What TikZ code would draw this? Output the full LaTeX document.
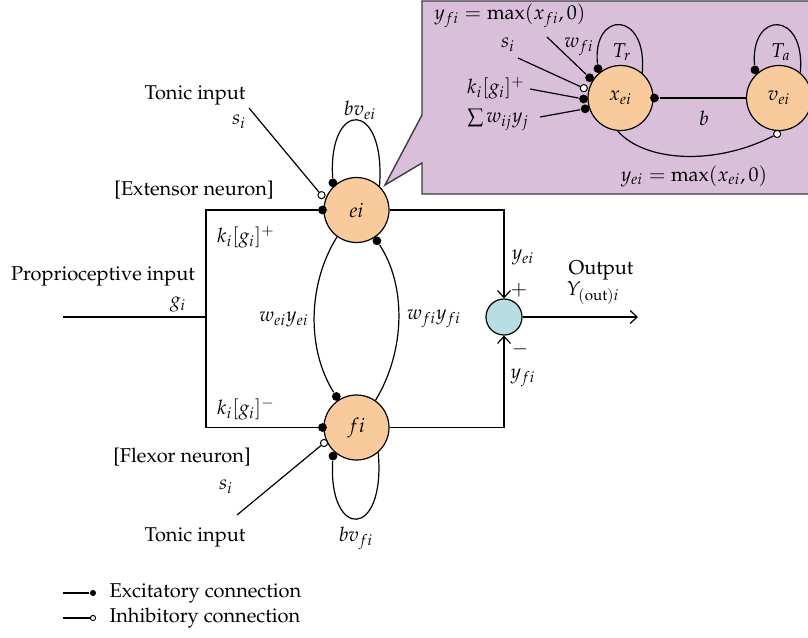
\documentclass[tikz,border=0pt]{standalone}
\usepackage[T1]{fontenc}
\usepackage{mathpazo}
\usetikzlibrary{arrows.meta,calc}
\definecolor{peach}{RGB}{249,203,156}
\definecolor{sumblue}{RGB}{184,221,226}
\definecolor{boxfill}{RGB}{217,191,217}
\definecolor{boxline}{RGB}{60,60,60}
\begin{document}
\begin{tikzpicture}[x=0.5pt,y=-0.5pt,line width=0.6pt,
  neuron/.style={circle,draw,fill=peach,minimum size=32.5pt,inner sep=0pt,font=\normalsize},
  sumnode/.style={circle,draw,fill=sumblue,minimum size=18pt,inner sep=0pt},
  exc/.style={circle,fill=black,inner sep=0pt,minimum size=4.4pt},
  inh/.style={circle,draw,fill=white,inner sep=0pt,minimum size=3.6pt,line width=0.5pt},
  lexc/.style={circle,fill=black,inner sep=0pt,minimum size=3pt},
  linh/.style={circle,draw,fill=white,inner sep=0pt,minimum size=2.6pt,line width=0.5pt},
  arr/.style={-{Straight Barb[length=3.5pt,width=6.5pt]}},
  lbl/.style={inner sep=0pt}]
\useasboundingbox (0,0) rectangle (808,637);

% callout box
\path[draw=boxline,fill=boxfill,line width=0.7pt] (422,1) -- (814,1) -- (814,194) -- (422,194) -- (422,163) -- (385,185) -- (422,115) -- cycle;

% main neurons
\node[neuron] (ei) at (356.5,210) {$ei$};
\node[neuron] (fi) at (356.5,427.5) {$fi$};
\node[sumnode] (sum) at (504,317) {};

% dots on ei
\node[exc] (eA) at ($(ei.center)+(131:18pt)$) {};
\node[exc] (eL) at ($(ei.center)+(180:17pt)$) {};
\node[inh] (eI) at ($(ei.center)+(157:19pt)$) {};
\node[exc] (eR) at ($(ei.center)+(-56.5:18.5pt)$) {};
% dots on fi
\node[exc] (fA) at ($(fi.center)+(123:18.5pt)$) {};
\node[exc] (fL) at ($(fi.center)+(180:17pt)$) {};
\node[inh] (fI) at ($(fi.center)+(205.5:18pt)$) {};
\node[exc] (fB) at ($(fi.center)+(230.5:18.5pt)$) {};

% self loops
\draw (eA) .. controls (328,99) and (386,99) .. (ei.46);
\draw (fB) .. controls (328,540) and (386,540) .. (fi.-49.5);
% mutual connections
\draw (ei.234) .. controls (307,285) and (307,350) .. (fA);
\draw (fi.55) .. controls (406,350) and (406,285) .. (eR);

% proprioceptive input
\coordinate (pin) at (63,317);
\coordinate (jn) at (206,317);
\coordinate (bt) at (206,210);
\coordinate (bb) at (206,427.5);
\draw (pin) -- (jn);
\draw (eL) -- (bt) -- (bb) -- (fL);

% tonic inputs
\coordinate (t1) at (249,108);
\coordinate (t2) at (237,515);
\draw (t1) -- (eI);
\draw (t2) -- (fI);

% outputs to summation
\draw[arr] (ei.east) -| (sum.north);
\draw[arr] (fi.east) -| (sum.south);
\coordinate (out) at (638,317);
\draw[arr] (sum.east) -- (out);

% labels main
\node[lbl] (tonic1) at (195,95) {Tonic input};
\node[lbl] (s1) at (239,122) {$s_i$};
\node[lbl] (ext) at (194,190) {[Extensor neuron]};
\node[lbl] (kp) at (246,237) {$k_i[g_i]^{+}$};
\node[lbl] (bve) at (360,110) {$bv_{ei}$};
\node[lbl] (prop) at (103,276) {Proprioceptive input};
\node[lbl] (gi) at (178,304) {$g_i$};
\node[lbl] (km) at (246,409) {$k_i[g_i]^{-}$};
\node[lbl] (flex) at (182,457) {[Flexor neuron]};
\node[lbl] (s2) at (226,487) {$s_i$};
\node[lbl] (tonic2) at (195,537) {Tonic input};
\node[lbl] (bvf) at (356,538) {$bv_{fi}$};
\node[lbl] (wey) at (284,319) {$w_{ei}y_{ei}$};
\node[lbl] (wfy) at (434,319) {$w_{fi}y_{fi}$};
\node[lbl] (yel) at (523,257) {$y_{ei}$};
\node[lbl] (plus) at (519,290) {$+$};
\node[lbl] (minus) at (520,349) {$-$};
\node[lbl] (yfl) at (523,378) {$y_{fi}$};
\node[lbl] (outl) at (601,270) {Output};
\node[lbl] (Yout) at (593,293) {$Y_{(\mathrm{out})i}$};

% inset neurons
\node[neuron] (xei) at (620.5,98) {$x_{ei}$};
\node[neuron] (vei) at (779,98) {$v_{ei}$};
\node[exc] (xA) at ($(xei.center)+(127.5:18.5pt)$) {};
\node[exc] (xB) at ($(xei.center)+(146.7:18.5pt)$) {};
\node[inh] (xC) at ($(xei.center)+(165:19pt)$) {};
\node[exc] (xD) at ($(xei.center)+(181.5:18.5pt)$) {};
\node[exc] (xE) at ($(xei.center)+(197:18.5pt)$) {};
\node[exc] (xR) at ($(xei.center)+(0:17pt)$) {};
\node[exc] (vA) at ($(vei.center)+(130.6:18.5pt)$) {};
\node[inh] (vB) at ($(vei.center)+(267:18pt)$) {};

\draw (xA) .. controls (592,10) and (648,10) .. (xei.49.6);
\draw (vA) .. controls (750,10) and (806,10) .. (vei.50.8);
\draw (xR) -- (vei.west);
\draw (xei.-95) .. controls (645,162) and (715,166) .. (vB);

\coordinate (iy) at (547,37);
\coordinate (is) at (518,58);
\coordinate (ik) at (530,89);
\coordinate (iw) at (540,117);
\draw (iy) -- (xB);
\draw (is) -- (xC);
\draw (ik) -- (xD);
\draw (iw) -- (xE);

\node[lbl] (yfmax) at (510,16) {$y_{fi}=\max(x_{fi},0)$};
\node[lbl] (si2) at (508,45) {$s_i$};
\node[lbl] (wfi) at (579,47) {$w_{fi}$};
\node[lbl] (Tr) at (622,52) {$T_r$};
\node[lbl] (Ta) at (781,52) {$T_a$};
\node[lbl] (kp2) at (496,88) {$k_i[g_i]^{+}$};
\node[lbl] (sw) at (498,120) {$\sum w_{ij}y_j$};
\node[lbl] (bl) at (704,118) {$b$};
\node[lbl] (yemax) at (694,176) {$y_{ei}=\max(x_{ei},0)$};

% legend
\coordinate (l1) at (63,593);
\coordinate (l2) at (63,618);
\node[lexc] (le) at (93,593) {};
\node[linh] (li) at (93,618) {};
\draw (l1) -- (le);
\draw (l2) -- (li);
\node[lbl,anchor=west] (lt1) at (109,593) {Excitatory connection};
\node[lbl,anchor=west] (lt2) at (109,618) {Inhibitory connection};
\end{tikzpicture}
\end{document}
